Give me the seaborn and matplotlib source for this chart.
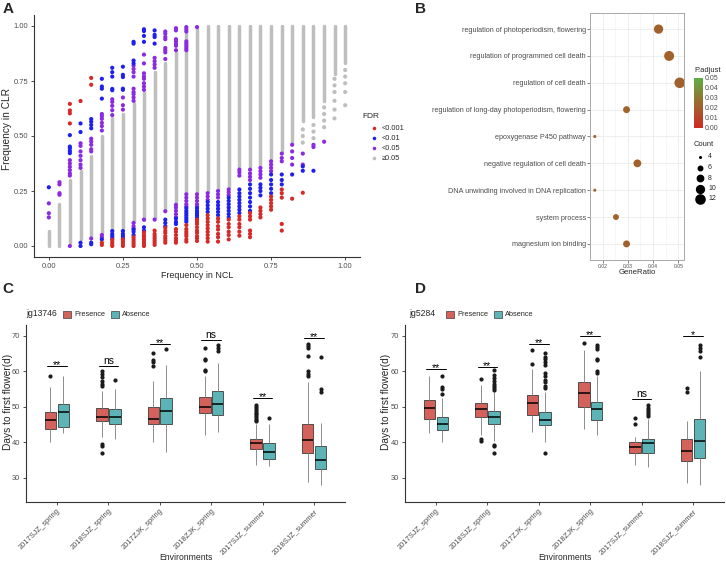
import numpy as np
import pandas as pd
import matplotlib
matplotlib.use('Agg')
import matplotlib.pyplot as plt
import seaborn as sns
from matplotlib.colors import LinearSegmentedColormap, Normalize
from matplotlib.cm import ScalarMappable
from matplotlib.lines import Line2D
from matplotlib.patches import Rectangle

W, H = 726, 564

# ---------------- Panel A data ----------------
ncl_freq = [0.000, 0.036, 0.071, 0.107, 0.143, 0.179, 0.214, 0.250, 0.286, 0.321,
            0.357, 0.393, 0.429, 0.464, 0.500, 0.536, 0.571, 0.607, 0.643, 0.679,
            0.714, 0.750, 0.786, 0.821, 0.857, 0.893, 0.929, 0.964, 1.000]
# dense grey (FDR >= 0.05) stacks per NCL column: lowest / highest CLR value
gray_lo = [0.0, 0.0, 0.015, 0.03, 0.046, 0.06, 0.075, 0.075, 0.113, 0.12, 0.13, 0.165,
           0.195, 0.243, 0.245, 0.25, 0.26, 0.27, 0.36, 0.36, 0.37, 0.40, 0.43, 0.47,
           0.57, 0.585, 0.66, 0.78, 0.83]
gray_hi = [0.07, 0.19, 0.30, 0.34, 0.41, 0.50, 0.58, 0.60, 0.65, 0.70, 0.79, 0.83,
           0.88, 0.97, 0.985, 1.0, 1.0, 1.0, 1.0, 1.0, 1.0, 1.0, 1.0, 1.0,
           1.0, 1.0, 1.0, 1.0, 1.0]
gray_pts = {24: [0.53, 0.50, 0.47], 25: [0.55, 0.52, 0.49],
            26: [0.63, 0.60, 0.57, 0.54],
            27: [0.76, 0.73, 0.70, 0.66, 0.62, 0.58],
            28: [0.80, 0.77, 0.74, 0.70, 0.64]}
red_pts = {
    2: [0.646, 0.616, 0.603, 0.557], 3: [0.659], 4: [0.764, 0.733],
    5: [0.015, 0.005], 6: [0.028, 0.018, 0.008, 0.0], 7: [0.03, 0.02, 0.01, 0.0],
    8: [0.04, 0.03, 0.02, 0.01, 0.0],
    9: [0.062, 0.05, 0.04, 0.03, 0.02, 0.01, 0.0],
    10: [0.07, 0.055, 0.045, 0.035, 0.025, 0.015, 0.005],
    11: [0.083, 0.07, 0.06, 0.045, 0.035, 0.025, 0.015],
    12: [0.077, 0.065, 0.05, 0.035, 0.025, 0.015],
    13: [0.095, 0.077, 0.065, 0.055, 0.045, 0.03, 0.02],
    14: [0.12, 0.11, 0.1, 0.085, 0.07, 0.06, 0.045, 0.035, 0.023],
    15: [0.14, 0.125, 0.11, 0.095, 0.08, 0.065, 0.05, 0.035, 0.02],
    16: [0.125, 0.11, 0.09, 0.075, 0.055, 0.04, 0.02],
    17: [0.12, 0.1, 0.085, 0.065, 0.05, 0.03],
    18: [0.135, 0.12, 0.1, 0.085, 0.065, 0.047],
    19: [0.15, 0.135, 0.12, 0.07, 0.055, 0.04],
    20: [0.175, 0.16, 0.145, 0.13],
    21: [0.225, 0.21, 0.195, 0.18, 0.165],
    22: [0.257, 0.24, 0.22, 0.1, 0.07],
    23: [0.215], 24: [0.242]}
blue_pts = {
    0: [0.267], 2: [0.504, 0.452, 0.444, 0.432, 0.422],
    3: [0.557, 0.518, 0.015, 0.0], 4: [0.577, 0.565, 0.55, 0.535, 0.015, 0.008],
    5: [0.76, 0.725, 0.715, 0.67, 0.03],
    6: [0.81, 0.79, 0.77, 0.714, 0.708, 0.068, 0.055, 0.045, 0.035],
    7: [0.815, 0.778, 0.768, 0.715, 0.71, 0.068, 0.055, 0.045, 0.035],
    8: [0.928, 0.92, 0.843, 0.83, 0.075, 0.065, 0.05],
    9: [0.985, 0.977, 0.955, 0.928, 0.085, 0.07],
    10: [0.98, 0.96, 0.95, 0.92], 11: [0.12, 0.105, 0.09], 12: [0.125, 0.11, 0.1],
    13: [0.172, 0.16, 0.15, 0.14, 0.13, 0.12, 0.11],
    14: [0.172, 0.16, 0.15, 0.14, 0.13],
    15: [0.2, 0.185, 0.17, 0.155], 16: [0.2, 0.185, 0.17, 0.155, 0.14],
    17: [0.22, 0.205, 0.19, 0.175, 0.16, 0.145, 0.13],
    18: [0.257, 0.24, 0.225, 0.21, 0.195, 0.18, 0.165, 0.15],
    19: [0.28, 0.26, 0.24, 0.22, 0.2, 0.18, 0.16],
    20: [0.28, 0.265, 0.25, 0.23], 21: [0.325, 0.3, 0.28, 0.26, 0.24],
    22: [0.325, 0.3, 0.28], 23: [0.325], 24: [0.362, 0.342], 25: [0.342]}
purple_pts = {
    0: [0.194, 0.149, 0.13], 1: [0.29, 0.28, 0.24, 0.233],
    2: [0.39, 0.375, 0.36, 0.345, 0.33, 0.32, 0.0],
    3: [0.467, 0.455, 0.43, 0.41, 0.39, 0.37, 0.355],
    4: [0.488, 0.475, 0.46, 0.44, 0.43, 0.034],
    5: [0.6, 0.59, 0.578, 0.56, 0.545, 0.525, 0.05, 0.04],
    6: [0.667, 0.655, 0.637, 0.617, 0.595], 7: [0.675, 0.64, 0.62],
    8: [0.82, 0.805, 0.79, 0.77, 0.715, 0.7, 0.69, 0.675, 0.66, 0.105, 0.09, 0.08],
    9: [0.87, 0.83, 0.785, 0.77, 0.76, 0.74, 0.725, 0.71, 0.12],
    10: [0.855, 0.84, 0.825, 0.81, 0.12],
    11: [0.975, 0.965, 0.95, 0.94, 0.9, 0.89, 0.88, 0.85, 0.158],
    12: [0.99, 0.98, 0.94, 0.93, 0.92, 0.91, 0.89, 0.187, 0.175, 0.16, 0.145, 0.13],
    13: [0.995, 0.985, 0.975, 0.93, 0.92, 0.91, 0.9, 0.89, 0.235, 0.22, 0.205, 0.19, 0.18],
    14: [0.995, 0.235, 0.22, 0.205, 0.19, 0.18],
    15: [0.24, 0.225, 0.21], 16: [0.25, 0.235, 0.22], 17: [0.257, 0.245, 0.232],
    18: [0.347, 0.335, 0.32], 19: [0.347, 0.33, 0.315, 0.3],
    20: [0.355, 0.34, 0.325, 0.31], 21: [0.385, 0.37, 0.355, 0.34],
    22: [0.42, 0.4, 0.385], 23: [0.46, 0.43, 0.4, 0.37], 24: [0.42, 0.37],
    25: [0.46, 0.45], 26: [0.474]}
fdr_levels = ['<0.001', '<0.01', '<0.05', '\u22650.05']
fdr_colors = ['#d42a2a', '#2020ee', '#8a2be2', '#bebebe']

# ---------------- Panel B data ----------------
go_terms = ['regulation of photoperiodism, flowering',
            'regulation of programmed cell death',
            'regulation of cell death',
            'regulation of long-day photoperiodism, flowering',
            'epoxygenase P450 pathway',
            'negative regulation of cell death',
            'DNA unwinding involved in DNA replication',
            'system process',
            'magnesium ion binding']
gene_ratio = [0.0422, 0.0464, 0.0506, 0.0295, 0.0169, 0.0338, 0.0169, 0.0253, 0.0295]
go_count = [10, 11, 12, 7, 4, 8, 4, 6, 7]
p_adjust = [0.022, 0.022, 0.022, 0.023, 0.023, 0.022, 0.023, 0.023, 0.022]

# ---------------- Panels C / D data ----------------
envs = ['2017SJZ_spring', '2018SJZ_spring', '2017ZJK_spring',
        '2018ZJK_spring', '2017SJZ_summer', '2018SJZ_summer']
groups = ['Presence', 'Absence']
box_colors = ['#d4625b', '#5db4b7']

c_pres_lo = [40.0, 41.5, 40.1, 42.0, 33.6, 28.6]
c_pres_q1 = [43.6, 45.9, 45.1, 48.1, 38.0, 36.8]
c_pres_med = [46.1, 47.2, 46.4, 49.8, 39.6, 40.6]
c_pres_q3 = [48.4, 49.7, 50.0, 52.6, 41.0, 45.1]
c_pres_hi = [55.5, 54.5, 57.1, 58.5, 45.0, 57.0]
c_pres_out = [[58.6], [55.8, 56.5, 57.3, 58.2, 59.2, 60.0, 39.4, 39.0, 37.0],
              [61.5, 62.7, 63.2, 65.0], [60.0, 60.4, 63.0, 63.5, 66.5],
              [45.8, 46.3, 46.8, 47.3, 47.8, 48.3, 48.8, 49.3, 49.8, 50.5],
              [58.5, 59.2, 60.0, 64.3, 66.5, 67.2, 67.6]]
c_abs_lo = [42.5, 40.8, 37.3, 42.7, 33.2, 27.8]
c_abs_q1 = [44.2, 45.1, 45.1, 47.5, 35.2, 32.5]
c_abs_med = [48.6, 47.2, 48.8, 50.7, 37.2, 34.9]
c_abs_q3 = [50.7, 49.3, 52.4, 54.4, 39.6, 39.0]
c_abs_hi = [58.5, 55.0, 61.8, 62.3, 45.0, 45.3]
c_abs_out = [[], [57.5], [66.2], [65.8, 66.6, 67.4], [46.7], [54.0, 55.0, 64.0]]
c_sig = ['**', 'ns', '**', 'ns', '**', '**']
c_sig_y = [61.5, 61.5, 67.6, 68.7, 52.3, 69.4]

d_pres_lo = [42.6, 42.0, 42.9, 43.7, 33.5, 28.5]
d_pres_q1 = [46.6, 47.2, 47.6, 50.0, 37.0, 34.6]
d_pres_med = [49.6, 49.2, 51.1, 53.8, 38.7, 37.5]
d_pres_q3 = [51.8, 50.9, 53.3, 56.8, 40.1, 40.8]
d_pres_hi = [58.5, 56.0, 60.5, 66.0, 41.5, 45.8]
d_pres_out = [[], [57.7, 40.8, 40.3], [62.0, 66.0], [67.8], [45.0, 46.7], [54.0, 55.2]]
d_abs_lo = [40.0, 40.2, 40.0, 42.0, 33.0, 27.8]
d_abs_q1 = [43.4, 45.1, 44.8, 46.3, 37.0, 35.4]
d_abs_med = [45.1, 47.2, 46.2, 49.2, 39.6, 40.2]
d_abs_q3 = [47.2, 48.8, 48.6, 51.4, 41.0, 46.4]
d_abs_hi = [52.5, 54.0, 54.0, 58.5, 46.5, 60.0]
d_abs_out = [[53.5, 55.0, 55.5, 58.5],
             [54.6, 55.2, 55.8, 56.4, 57.2, 58.0, 59.0, 60.2, 39.2, 38.8, 37.0],
             [55.2, 55.8, 56.8, 57.6, 58.5, 59.5, 61.8, 62.5, 63.3, 64.0, 65.0, 37.0],
             [59.5, 60.0, 63.0, 63.3, 66.3, 66.8, 67.4],
             [47.3, 47.9, 48.5, 49.1, 49.7, 50.4],
             [64.0, 65.8, 66.6, 67.4]]
d_sig = ['**', '**', '**', '**', 'ns', '*']
d_sig_y = [60.6, 61.1, 67.7, 70.0, 52.2, 69.8]

sns.set_theme(style='white')
plt.rcParams['font.family'] = ['Liberation Sans', 'DejaVu Sans']
TXT = '#4d4d4d'


def fx(x):
    return x / W


def fy(y):
    return 1 - y / H


def px_axes(left, top, right, bottom):
    return fig.add_axes([fx(left), fy(bottom), (right - left) / W, (bottom - top) / H])


def classic(ax):
    for s in ['top', 'right']:
        ax.spines[s].set_visible(False)
    for s in ['left', 'bottom']:
        ax.spines[s].set_color('#333333')
        ax.spines[s].set_linewidth(0.8)
    ax.tick_params(length=2.5, width=0.6, color='#333333', labelcolor=TXT,
                   left=True, bottom=True, pad=1.5)


fig = plt.figure(figsize=(W / 100, H / 100), dpi=100)

# ================= A =================
axA = px_axes(34, 15, 360, 257)
axA.vlines(ncl_freq, gray_lo, gray_hi, color=fdr_colors[3], lw=2.5, zorder=1,
           capstyle='round')
rows = []
for lvl, pts in zip(fdr_levels, [red_pts, blue_pts, purple_pts, gray_pts]):
    for k, ys in pts.items():
        for y in ys:
            rows.append((ncl_freq[k], y, lvl))
dfA = pd.DataFrame(rows, columns=['NCL', 'CLR', 'FDR'])
dfA['order'] = dfA['FDR'].map({fdr_levels[3]: 0, fdr_levels[2]: 1,
                               fdr_levels[1]: 2, fdr_levels[0]: 3})
dfA = dfA.sort_values('order')
sns.scatterplot(data=dfA, x='NCL', y='CLR', hue='FDR', hue_order=fdr_levels,
                palette=fdr_colors, s=9, linewidth=0, legend=False, ax=axA, zorder=2)
axA.set_xlim(-0.05, 1.05)
axA.set_ylim(-0.05, 1.05)
axA.set_xticks([0, 0.25, 0.5, 0.75, 1.0])
axA.set_yticks([0, 0.25, 0.5, 0.75, 1.0])
axA.set_xticklabels(['0.00', '0.25', '0.50', '0.75', '1.00'], fontsize=5.4)
axA.set_yticklabels(['0.00', '0.25', '0.50', '0.75', '1.00'], fontsize=5.4)
axA.set_xlabel('')
axA.set_ylabel('')
classic(axA)
fig.text(fx(197), fy(275), 'Frequency in NCL', fontsize=6.4, ha='center', va='center')
fig.text(fx(7), fy(129), 'Frequency in CLR', fontsize=7.3, ha='center', va='center',
         rotation=90)
# FDR legend
fig.text(fx(362), fy(117), 'FDR', fontsize=6, ha='left', va='center')
for i, (lvl, col) in enumerate(zip(fdr_levels, fdr_colors)):
    yy = 128 + 10 * i
    fig.add_artist(Line2D([fx(374)], [fy(yy)], transform=fig.transFigure, marker='o',
                          ms=2.6, mec='none', mfc=col, ls='none'))
    fig.text(fx(382), fy(yy), lvl, fontsize=5.3, ha='left', va='center')

# ================= B =================
axB = px_axes(590, 13, 684, 260)
dfB = pd.DataFrame({'term': go_terms, 'GeneRatio': gene_ratio,
                    'Count': go_count, 'p.adjust': p_adjust})
padj_cmap = LinearSegmentedColormap.from_list(
    'padj', ['#d02a24', '#9b692d', '#5fae45'], N=256)
padj_norm = Normalize(0, 0.05)
size_rng = (5, 58)
sns.scatterplot(data=dfB, x='GeneRatio', y='term', hue='p.adjust', palette=padj_cmap,
                hue_norm=padj_norm, size='Count', sizes=size_rng, size_norm=(4, 12),
                linewidth=0, legend=False, ax=axB, zorder=3)
axB.set_ylim(len(go_terms) - 0.4, -0.6)
axB.set_xlim(0.0152, 0.0523)
axB.set_xticks([0.02, 0.03, 0.04, 0.05])
axB.set_xticks([0.015, 0.025, 0.035, 0.045], minor=True)
axB.set_xticklabels(['0.02', '0.03', '0.04', '0.05'], fontsize=3.6)
axB.tick_params(axis='y', labelsize=5.2)
axB.grid(True, which='major', color='#ebebeb', lw=0.6)
axB.grid(True, which='minor', axis='x', color='#f2f2f2', lw=0.4)
axB.set_axisbelow(True)
axB.set_xlabel('')
axB.set_ylabel('')
for s in axB.spines.values():
    s.set_color('#a8a8a8')
    s.set_linewidth(0.7)
axB.tick_params(which='major', length=2, width=0.5, color='#555555', labelcolor=TXT,
                left=True, bottom=True, pad=1)
axB.tick_params(which='minor', length=0)
fig.text(fx(637), fy(272), 'GeneRatio', fontsize=5.6, ha='center', va='center')
# colour bar
fig.text(fx(694), fy(71), 'P.adjust', fontsize=5.4, ha='left', va='center')
cax = px_axes(694, 78, 703, 128)
cb = fig.colorbar(ScalarMappable(norm=padj_norm, cmap=padj_cmap), cax=cax,
                  ticks=[0, 0.01, 0.02, 0.03, 0.04, 0.05])
cb.outline.set_visible(False)
cb.ax.set_yticklabels(['0.00', '0.01', '0.02', '0.03', '0.04', '0.05'])
cb.ax.tick_params(length=0, labelsize=5, labelcolor=TXT, pad=1.5)
# Count legend
fig.text(fx(694), fy(145), 'Count', fontsize=5.4, ha='left', va='center')
for i, c in enumerate([4, 6, 8, 10, 12]):
    yy = 157 + 10.5 * i
    s = size_rng[0] + (c - 4) / 8 * (size_rng[1] - size_rng[0])
    fig.add_artist(Line2D([fx(700)], [fy(yy)], transform=fig.transFigure, marker='o',
                          ms=np.sqrt(s), mec='none', mfc='black', ls='none'))
    fig.text(fx(708), fy(yy), str(c), fontsize=5, ha='left', va='center')


# ================= C / D =================
def box_frame(lo, q1, med, q3, hi, out, label):
    rows = []
    for i, env in enumerate(envs):
        vals = [lo[i]] + [q1[i]] * 40 + [med[i]] * 40 + [q3[i]] * 40 + [hi[i]] + out[i]
        rows += [(env, label, v) for v in vals]
    return rows


def box_panel(ax, pres, absn, sig, sig_y, title, key_x):
    df = pd.DataFrame(box_frame(*pres, 'Presence') + box_frame(*absn, 'Absence'),
                      columns=['env', 'geno', 'days'])
    sns.boxplot(data=df, x='env', y='days', hue='geno', order=envs, hue_order=groups,
                palette=box_colors, saturation=1, width=0.5, gap=0.1, linewidth=0.6,
                linecolor='#3c3c3c', fliersize=2.0, legend=False, showcaps=False,
                flierprops=dict(marker='o', markerfacecolor='#1a1a1a',
                                markeredgecolor='#1a1a1a'),
                medianprops=dict(color='black', linewidth=1.1),
                whiskerprops=dict(color='#8c8c8c', linewidth=0.7), ax=ax)
    for i, (lab, yv) in enumerate(zip(sig, sig_y)):
        ax.plot([i - 0.19, i + 0.19], [yv, yv], color='black', lw=0.7)
        off = 0.6 if lab == 'ns' else -0.6
        ax.text(i, yv + off, lab, ha='center', va='baseline', fontsize=7.5,
                color='black')
    ax.set_xlim(-0.6, 5.6)
    ax.set_ylim(23.1, 73)
    ax.set_yticks([30, 40, 50, 60, 70])
    ax.set_yticklabels(['30', '40', '50', '60', '70'], fontsize=5.4)
    ax.set_xticks(range(len(envs)))
    ax.set_xticklabels(envs, rotation=45, ha='right', rotation_mode='anchor',
                       fontsize=5.4)
    ax.set_xlabel('')
    ax.set_ylabel('')
    classic(ax)
    # legend row on top
    x0, yk = key_x, 314
    fig.text(fx(x0), fy(yk), title, fontsize=6.2, ha='left', va='center')
    kx = x0 + 37
    for g, col in zip(groups, box_colors):
        fig.add_artist(Rectangle((fx(kx), fy(yk + 3.5)), 8 / W, 7 / H,
                                 transform=fig.transFigure, facecolor=col,
                                 edgecolor='#3c3c3c', lw=0.5))
        fig.text(fx(kx + 11), fy(yk), g, fontsize=5.3, ha='left', va='center')
        kx += 48


axC = px_axes(26, 325, 345, 502)
box_panel(axC, (c_pres_lo, c_pres_q1, c_pres_med, c_pres_q3, c_pres_hi, c_pres_out),
          (c_abs_lo, c_abs_q1, c_abs_med, c_abs_q3, c_abs_hi, c_abs_out),
          c_sig, c_sig_y, 'jg13746', 26)
fig.text(fx(186), fy(557), 'Environments', fontsize=6.2, ha='center', va='center')
fig.text(fx(8), fy(402), 'Days to first flower(d)', fontsize=7.3, ha='center',
         va='center', rotation=90)

axD = px_axes(405, 325, 724, 502)
box_panel(axD, (d_pres_lo, d_pres_q1, d_pres_med, d_pres_q3, d_pres_hi, d_pres_out),
          (d_abs_lo, d_abs_q1, d_abs_med, d_abs_q3, d_abs_hi, d_abs_out),
          d_sig, d_sig_y, 'jg5284', 409)
fig.text(fx(565), fy(557), 'Environments', fontsize=6.2, ha='center', va='center')
fig.text(fx(386), fy(402), 'Days to first flower(d)', fontsize=7.3, ha='center',
         va='center', rotation=90)

# panel letters
for lab, x, y in [('A', 3, 2), ('B', 415, 2), ('C', 2, 282), ('D', 415, 282)]:
    fig.text(fx(x), fy(y), lab, fontsize=11, fontweight='bold', ha='left', va='top')

fig.savefig('out.png', dpi=100)
